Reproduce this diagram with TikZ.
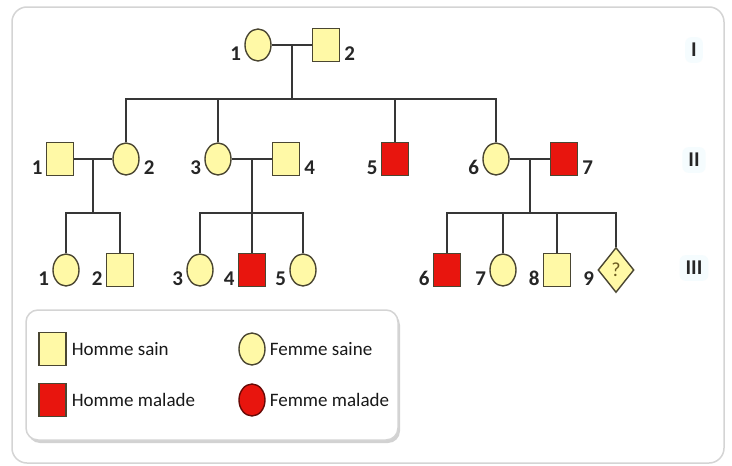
\documentclass[tikz,border=0pt]{standalone}
\usepackage{fontspec}
\setmainfont{Carlito}
\usetikzlibrary{shapes.geometric,calc,shadows,positioning}

\definecolor{sain}{HTML}{FFF9A6}
\definecolor{malade}{HTML}{E8150E}
\definecolor{contour}{HTML}{4A4632}
\definecolor{trait}{HTML}{363636}
\definecolor{cadre}{HTML}{D4D4D4}
\definecolor{question}{HTML}{6A5A20}

\tikzset{
  indiv/.style={draw=contour,line width=1.4pt,inner sep=0pt},
  homme/.style={indiv,rectangle,minimum width=27pt,minimum height=33pt,fill=sain},
  femme/.style={indiv,ellipse,minimum width=26pt,minimum height=32pt,fill=sain},
  hommeM/.style={homme,fill=malade},
  femmeM/.style={femme,fill=malade,draw=malade!45!black},
  inconnu/.style={indiv,diamond,minimum width=36pt,minimum height=45pt,fill=sain,
    text=question,font=\fontsize{20}{20}\selectfont},
  num/.style={font=\fontsize{21}{21}\selectfont\bfseries,text=black!85,inner sep=1pt},
  numG/.style={label={[num,anchor=base east,xshift=-2pt,yshift=-15.5pt]left:#1}},
  numD/.style={label={[num,anchor=base west,xshift=3pt,yshift=-15.5pt]right:#1}},
  lien/.style={draw=trait,line width=1.6pt},
  gen/.style={font=\fontsize{21}{21}\selectfont\bfseries,text=black!85,
    fill=cyan!4,rounded corners=6pt,inner sep=6pt},
  legende/.style={font=\fontsize{19}{19}\selectfont,text=black!90,inner sep=0pt},
  legendebox/.style={draw=cadre,line width=1.5pt,rounded corners=12pt,fill=white,
    drop shadow={shadow xshift=2pt,shadow yshift=-3pt,fill=black!35}}
}

\begin{document}
\begin{tikzpicture}[x=1pt,y=-1pt]
%
\useasboundingbox (0,0) rectangle (732,466);
\fill[white] (0,0) rectangle (732,466);
\draw[cadre,line width=1.5pt,rounded corners=15pt] (12,7) rectangle (724,463);
%
% generation I
\node[femme,numG=1] (I1) at (258,45) {};
\node[homme,numD=2] (I2) at (326,45) {};
%
% generation II
\node[homme,numG=1]  (II1) at (60,159) {};
\node[femme,numD=2]  (II2) at (126,159) {};
\node[femme,numG=3]  (II3) at (218,159) {};
\node[homme,numD=4]  (II4) at (286,159) {};
\node[hommeM,numG=5] (II5) at (395,159) {};
\node[femme,numG=6]  (II6) at (496,159) {};
\node[hommeM,numD=7] (II7) at (564,159) {};
%
% generation III
\node[femme,numG=1]  (III1) at (66,270) {};
\node[homme,numG=2]  (III2) at (120,270) {};
\node[femme,numG=3]  (III3) at (200,270) {};
\node[hommeM,numG=4] (III4) at (252,270) {};
\node[femme,numG=5]  (III5) at (303,270) {};
\node[hommeM,numG=6] (III6) at (447,270) {};
\node[femme,numG=7]  (III7) at (503,270) {};
\node[homme,numG=8]  (III8) at (557,270) {};
\node[inconnu,numG=9] (III9) at (616,270) {?};
%
% unions
\draw[lien] (I1) -- (I2);
\draw[lien] (II1) -- (II2);
\draw[lien] (II3) -- (II4);
\draw[lien] (II6) -- (II7);
\coordinate (uI) at ($(I1)!.5!(I2)$);
\coordinate (uA) at ($(II1)!.5!(II2)$);
\coordinate (uB) at ($(II3)!.5!(II4)$);
\coordinate (uC) at ($(II6)!.5!(II7)$);
\coordinate (fI) at (uI |- 0,99);
\coordinate (fA) at (uA |- 0,213);
\coordinate (fB) at (uB |- 0,213);
\coordinate (fC) at (uC |- 0,213);
\foreach \u in {I,A,B,C}
  \draw[lien] (u\u) -- (f\u);
%
% fratries
\draw[lien] (II2.north) |- (fI) -| (II6.north);
\draw[lien] (III1.north) |- (fA) -| (III2.north);
\draw[lien] (III3.north) |- (fB) -| (III5.north);
\draw[lien] (III6.north) |- (fC) -| (III9.north);
\foreach \e/\f in {II3/fI,II5/fI,III4/fB,III7/fC,III8/fC}
  \draw[lien] (\e.north) -- (\e.north |- \f);
%
% generations
\node[gen] (gI) at (694,50) {I};
\node[gen] (gII) at (694,160) {II};
\node[gen] (gIII) at (694,268) {III};
%
% legende
\draw[legendebox] (26,310) rectangle (398,440);
\node[homme]  (lHs) at (52.5,349) {};
\node[hommeM] (lHm) at (52.5,400) {};
\node[femme]  (lFs) at (252,349) {};
\node[femmeM] (lFm) at (252,400) {};
\node[legende,right=5pt of lHs] (tHs) {Homme sain};
\node[legende,right=5pt of lHm] (tHm) {Homme malade};
\node[legende,right=4pt of lFs] (tFs) {Femme saine};
\node[legende,right=4pt of lFm] (tFm) {Femme malade};
%
\end{tikzpicture}
\end{document}
